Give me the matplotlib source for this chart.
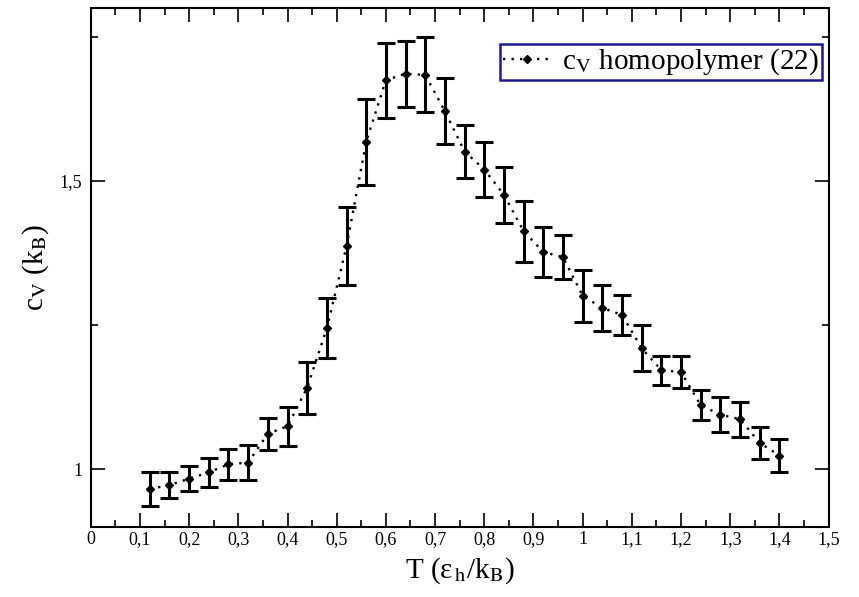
import numpy as np
import matplotlib.pyplot as plt
from matplotlib.ticker import MultipleLocator, FuncFormatter

plt.rcParams['font.family'] = ['Liberation Serif', 'DejaVu Serif']
plt.rcParams['mathtext.fontset'] = 'stix'

# temperature (eps_h / k_B)
T = [0.12, 0.16, 0.20, 0.24, 0.28, 0.32, 0.36, 0.40, 0.44, 0.48, 0.52,
     0.56, 0.60, 0.64, 0.68, 0.72, 0.76, 0.80, 0.84, 0.88, 0.92, 0.96,
     1.00, 1.04, 1.08, 1.12, 1.16, 1.20, 1.24, 1.28, 1.32, 1.36, 1.40]
# specific heat c_V (k_B)
cv = [0.966, 0.973, 0.984, 0.995, 1.009, 1.012, 1.062, 1.075, 1.142, 1.245,
      1.387, 1.568, 1.675, 1.686, 1.684, 1.621, 1.551, 1.520, 1.476, 1.413,
      1.377, 1.368, 1.301, 1.280, 1.268, 1.210, 1.172, 1.169, 1.111, 1.095,
      1.087, 1.046, 1.024]
cv_err = [0.029, 0.023, 0.022, 0.025, 0.027, 0.030, 0.028, 0.034, 0.045, 0.052,
          0.068, 0.075, 0.065, 0.057, 0.065, 0.057, 0.046, 0.048, 0.049, 0.053,
          0.044, 0.038, 0.045, 0.040, 0.035, 0.040, 0.025, 0.027, 0.026, 0.030,
          0.030, 0.028, 0.028]

fig = plt.figure(figsize=(8.59, 5.97), dpi=100)
ax = fig.add_axes([0.1056, 0.117, 0.8591, 0.8696])

ax.errorbar(T, cv, yerr=cv_err, fmt='none', ecolor='black',
            elinewidth=2.2, capsize=6.2, capthick=2.2, zorder=3)
ax.plot(T, cv, ls=(0, (1, 2.6)), lw=1.7, color='black', marker='D', ms=4.5,
        label=r'c$_{\mathrm{V}}$ homopolymer (22)', zorder=4)

ax.set_xlim(0, 1.5)
ax.set_ylim(0.9, 1.8)
ax.xaxis.set_major_locator(MultipleLocator(0.1))
ax.xaxis.set_minor_locator(MultipleLocator(0.05))
ax.yaxis.set_major_locator(MultipleLocator(0.5))
ax.yaxis.set_minor_locator(MultipleLocator(0.25))

def comma(v, pos):
    s = f'{v:.2f}'.rstrip('0').rstrip('.')
    return s.replace('.', ',')

ax.xaxis.set_major_formatter(FuncFormatter(comma))
ax.yaxis.set_major_formatter(FuncFormatter(comma))
ax.tick_params(which='both', direction='in', top=True, right=True,
               labelsize=13, width=1.2)
ax.tick_params(which='major', length=10)
ax.tick_params(which='minor', length=5)
ax.tick_params(axis='x', which='major', pad=3)
ax.tick_params(axis='y', which='major', pad=6)
for sp in ax.spines.values():
    sp.set_linewidth(1.5)

ax.set_xlabel(r'T (ε$_{\,\mathrm{h}}$/k$_{\mathrm{B}}$)', fontsize=21, labelpad=5)
ax.set_ylabel(r'c$_{\mathrm{V}}$ (k$_{\mathrm{B}}$)', fontsize=21, labelpad=6)

leg = ax.legend(loc='upper right', bbox_to_anchor=(0.991, 0.931), fontsize=21,
                handlelength=1.7, handletextpad=0.35, borderpad=0.1,
                borderaxespad=0.0, fancybox=False, framealpha=1)
leg.get_frame().set_edgecolor('#1a1a8c')
leg.get_frame().set_linewidth(1.8)

fig.savefig('out.png', dpi=100)
